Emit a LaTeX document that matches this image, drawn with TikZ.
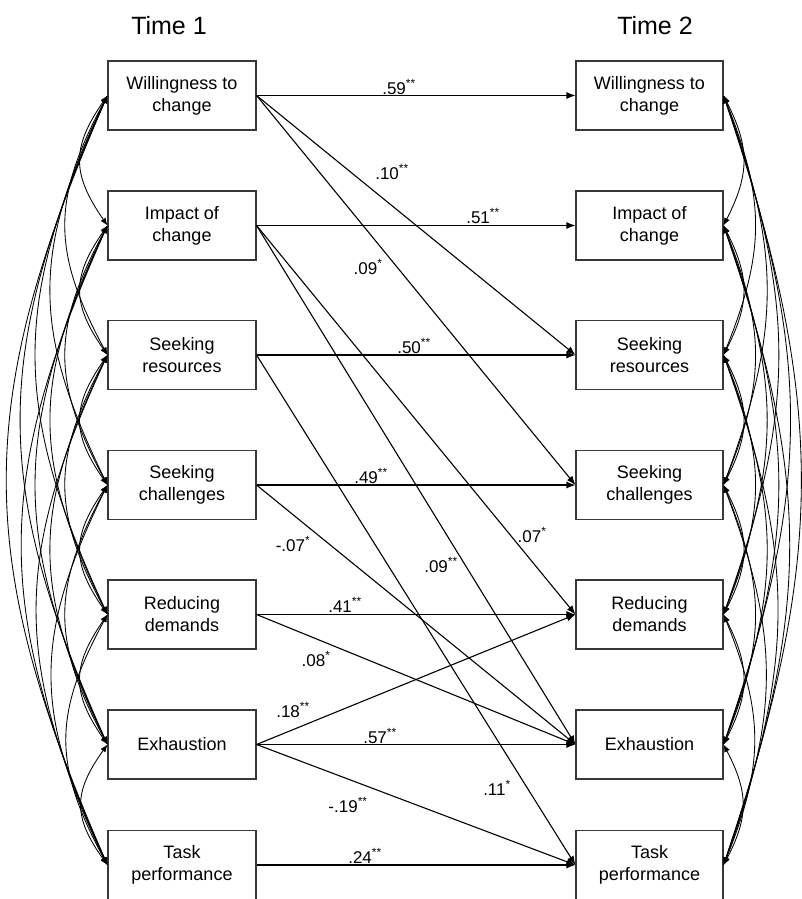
\documentclass[tikz,border=0pt]{standalone}
\usepackage{fontspec}
\setmainfont{Liberation Sans}
\usetikzlibrary{arrows.meta}
\begin{document}
\begin{tikzpicture}[x=1pt,y=-1pt,
  box/.style={draw=black!78, line width=1.1pt, minimum width=148pt, minimum height=69pt,
    inner sep=0pt, align=center, font=\fontsize{18}{22}\selectfont},
  path/.style={draw, line width=1.1pt, -{Latex[length=9pt,width=7pt]}},
  cov/.style={draw, line width=0.85pt, {Latex[length=7.5pt,width=6pt]}-{Latex[length=7.5pt,width=6pt]}},
  lab/.style={font=\fontsize{17}{20}\selectfont, inner sep=0pt},
  ttl/.style={font=\fontsize{25}{30}\selectfont, inner sep=0pt}]
\useasboundingbox (0,0) rectangle (801,899);

\node[ttl] (t1) at (169,26) {Time 1};
\node[ttl] (t2) at (655,26) {Time 2};

% Time 1 boxes
\node[box] (L1) at (182,95.5)  {Willingness to\\change};
\node[box] (L2) at (182,225.5) {Impact of\\change};
\node[box] (L3) at (182,355)   {Seeking\\resources};
\node[box] (L4) at (182,485)   {Seeking\\challenges};
\node[box] (L5) at (182,614.5) {Reducing\\demands};
\node[box] (L6) at (182,744.5) {Exhaustion};
\node[box] (L7) at (182,865)   {Task\\performance};
% Time 2 boxes
\node[box, minimum width=147pt] (R1) at (649.5,95.5)  {Willingness to\\change};
\node[box, minimum width=147pt] (R2) at (649.5,225.5) {Impact of\\change};
\node[box, minimum width=147pt] (R3) at (649.5,355)   {Seeking\\resources};
\node[box, minimum width=147pt] (R4) at (649.5,485)   {Seeking\\challenges};
\node[box, minimum width=147pt] (R5) at (649.5,614.5) {Reducing\\demands};
\node[box, minimum width=147pt] (R6) at (649.5,744.5) {Exhaustion};
\node[box, minimum width=147pt] (R7) at (649.5,865)   {Task\\performance};

% paths
\draw[path] (L1.east) -- (R1.west);
\draw[path] (L1.east) -- (R3.west);
\draw[path] (L1.east) -- (R4.west);
\draw[path] (L2.east) -- (R2.west);
\draw[path] (L2.east) -- (R5.west);
\draw[path] (L2.east) -- (R6.west);
\draw[path] (L3.east) -- (R3.west);
\draw[path] (L3.east) -- (R7.west);
\draw[path] (L4.east) -- (R4.west);
\draw[path] (L4.east) -- (R6.west);
\draw[path] (L5.east) -- (R5.west);
\draw[path] (L5.east) -- (R6.west);
\draw[path] (L6.east) -- (R5.west);
\draw[path] (L6.east) -- (R6.west);
\draw[path] (L6.east) -- (R7.west);
\draw[path] (L7.east) -- (R7.west);

% labels
\node[lab] (a1)  at (399,87)  {.59\textsuperscript{**}};
\node[lab] (a2)  at (392,172) {.10\textsuperscript{**}};
\node[lab] (a3)  at (483,216) {.51\textsuperscript{**}};
\node[lab] (a4)  at (368,267) {.09\textsuperscript{*}};
\node[lab] (a5)  at (414,346) {.50\textsuperscript{**}};
\node[lab] (a6)  at (371,476) {.49\textsuperscript{**}};
\node[lab] (a7)  at (293,544) {-.07\textsuperscript{*}};
\node[lab] (a8)  at (532,535) {.07\textsuperscript{*}};
\node[lab] (a9)  at (441,565) {.09\textsuperscript{**}};
\node[lab] (a10) at (345,605) {.41\textsuperscript{**}};
\node[lab] (a11) at (316,659) {.08\textsuperscript{*}};
\node[lab] (a12) at (293,710) {.18\textsuperscript{**}};
\node[lab] (a13) at (380,736) {.57\textsuperscript{**}};
\node[lab] (a14) at (497,788) {.11\textsuperscript{*}};
\node[lab] (a15) at (348,805) {-.19\textsuperscript{**}};
\node[lab] (a16) at (365,856) {.24\textsuperscript{**}};

% covariances
\def\yy{{95.5,225.5,355,485,614.5,744.5,865}}
\foreach \i in {1,...,6}{
  \pgfmathtruncatemacro\ii{\i+1}
  \foreach \j in {\ii,...,7}{
    \pgfmathsetmacro\S{\yy[\j-1]-\yy[\i-1]}
    \pgfmathsetmacro\kl{(12+0.115*\S)/0.75}
    \pgfmathsetmacro\kr{(8+0.09*\S)/0.75}
    \pgfmathsetmacro\c{0.4*\S}
    \draw[cov] (L\i.west) .. controls +(-\kl,\c) and +(-\kl,-\c) .. (L\j.west);
    \draw[cov] (R\i.east) .. controls +(\kr,\c) and +(\kr,-\c) .. (R\j.east);
  }
}
\end{tikzpicture}
\end{document}
